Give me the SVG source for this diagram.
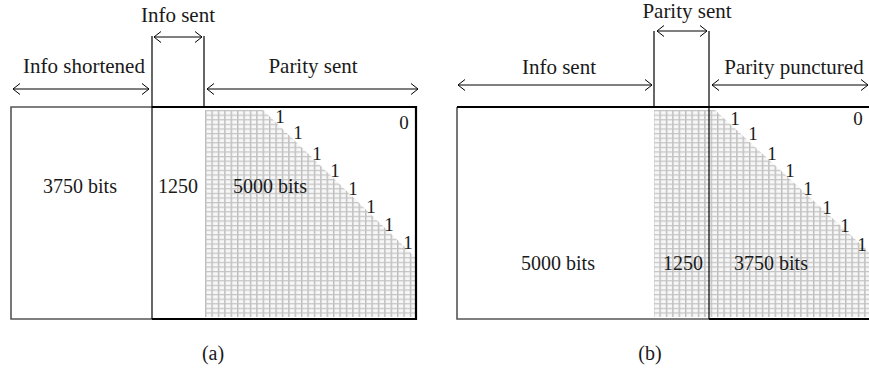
<svg xmlns="http://www.w3.org/2000/svg" width="869" height="377" viewBox="0 0 869 377">
<style>
text{font-family:"Liberation Serif","Times New Roman",serif;fill:#1a1a1a}
.lbl{font-size:21px}
.mid{font-size:20px}
.one{font-size:19px}
.cap{font-size:20px}
.thin{stroke:#000;stroke-width:1.2;fill:none}
.gray{stroke:#555;stroke-width:1.6;fill:none}
.bold{stroke:#000;stroke-width:2.2;fill:none}
.arr{stroke:#000;stroke-width:1;fill:none;marker-start:url(#ah);marker-end:url(#ah)}
</style>
<defs>
<marker id="ah" viewBox="-8 -6 9 12" markerWidth="9" markerHeight="12" refX="0" refY="0" orient="auto-start-reverse" markerUnits="userSpaceOnUse">
<path d="M-7,-5.5 L0,0 L-7,5.5" fill="none" stroke="#000" stroke-width="1"/>
</marker>
<pattern id="grid" patternUnits="userSpaceOnUse" width="6.4" height="4.6" x="205" y="110">
<rect width="6.4" height="4.6" fill="#f7f7f7"/>
<line x1="0.7" y1="0" x2="0.7" y2="4.6" stroke="#bcbcbc" stroke-width="1.4"/>
<line x1="0" y1="0.6" x2="6.4" y2="0.6" stroke="#c4c4c4" stroke-width="1.2"/>
</pattern>
</defs>

<g id="panel-a">
<g id="a-grid"><polygon points="205,110 263,110 416,258 416,317 205,317" fill="url(#grid)"/></g>
<g id="a-matrix">
<polyline class="gray" points="152,319 11,319 11,107 152,107"/>
<polyline class="bold" points="152,107 416,107 416,319 152,319"/>
<line class="thin" x1="152" y1="36" x2="152" y2="319" stroke-width="1.5"/>
<line class="thin" x1="204" y1="36" x2="204" y2="107"/>
</g>
<g id="a-labels">
<text class="lbl" x="178" y="22" text-anchor="middle">Info sent</text>
<text class="lbl" x="84" y="73" text-anchor="middle">Info shortened</text>
<text class="lbl" x="313" y="73" text-anchor="middle">Parity sent</text>
<text class="mid" x="80" y="193" text-anchor="middle">3750 bits</text>
<text class="mid" x="178" y="193" text-anchor="middle">1250</text>
<text class="mid" x="270" y="193" text-anchor="middle">5000 bits</text>
<text class="one" x="404" y="129" text-anchor="middle">0</text>
<text class="one" text-anchor="middle"><tspan x="280" y="123">1</tspan><tspan x="298" y="139">1</tspan><tspan x="317" y="160">1</tspan><tspan x="335" y="177">1</tspan><tspan x="353" y="195">1</tspan><tspan x="371" y="213">1</tspan><tspan x="389" y="231">1</tspan><tspan x="408" y="249">1</tspan></text>
<text class="cap" x="213" y="360" text-anchor="middle">(a)</text>
</g>
</g>

<g id="panel-b">
<g id="b-grid"><polygon points="654,110 715,110 869,252 869,317 654,317" fill="url(#grid)"/></g>
<g id="b-matrix">
<polyline class="gray" points="709,319 457,319 457,107"/>
<line class="bold" x1="457" y1="107" x2="870" y2="107"/>
<line class="bold" x1="709" y1="319" x2="870" y2="319"/>
<line class="thin" x1="709" y1="31" x2="709" y2="319" stroke-width="1.5"/>
<line class="thin" x1="654" y1="31" x2="654" y2="107" stroke-width="1.5"/>
</g>
<g id="b-labels">
<text class="lbl" x="687" y="18" text-anchor="middle" font-size="20">Parity sent</text>
<text class="lbl" x="559" y="74" text-anchor="middle">Info sent</text>
<text class="lbl" x="794" y="74" text-anchor="middle">Parity punctured</text>
<text class="mid" x="558" y="270" text-anchor="middle">5000 bits</text>
<text class="mid" x="683" y="270" text-anchor="middle">1250</text>
<text class="mid" x="771" y="270" text-anchor="middle">3750 bits</text>
<text class="one" x="858" y="125" text-anchor="middle">0</text>
<text class="one" text-anchor="middle"><tspan x="735" y="125">1</tspan><tspan x="753" y="140">1</tspan><tspan x="772" y="160">1</tspan><tspan x="790" y="177">1</tspan><tspan x="808" y="195">1</tspan><tspan x="827" y="214">1</tspan><tspan x="845" y="232">1</tspan><tspan x="862" y="251">1</tspan></text>
<text class="cap" x="650" y="360" text-anchor="middle">(b)</text>
</g>
</g>

<g id="connectors">
<line class="arr" x1="154" y1="37" x2="202" y2="37"/>
<line class="arr" x1="13" y1="89" x2="149" y2="89"/>
<line class="arr" x1="207" y1="89" x2="418" y2="89"/>
<line class="arr" x1="657" y1="31" x2="707" y2="31"/>
<line class="arr" x1="458" y1="85" x2="652" y2="85"/>
<line class="arr" x1="712" y1="85" x2="868" y2="85"/>
</g>
</svg>
